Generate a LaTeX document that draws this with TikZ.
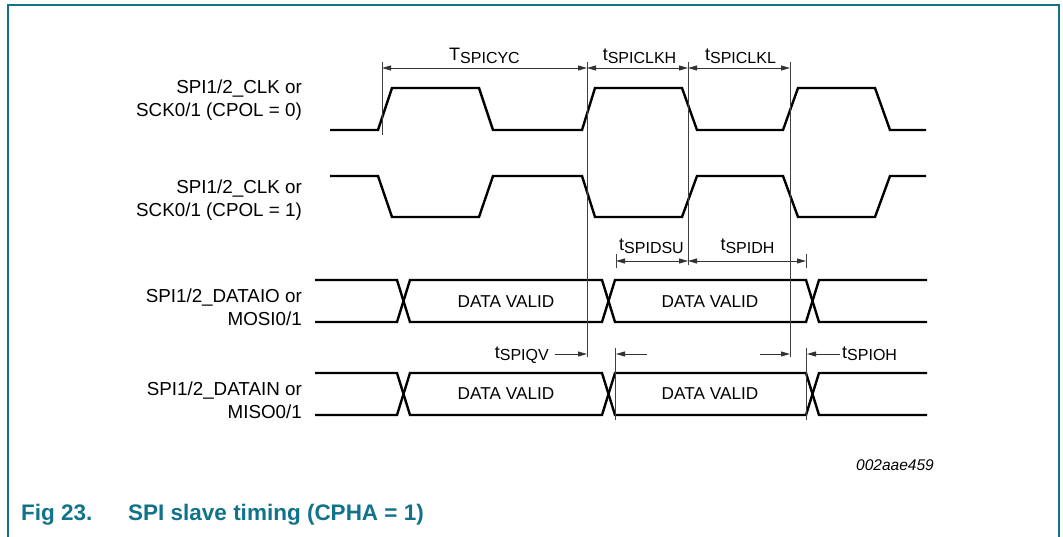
\documentclass[tikz,border=0pt]{standalone}
\usepackage{fontspec}
\setmainfont{Liberation Sans}
\usepackage{tikz}
\usetikzlibrary{positioning}
\usetikzlibrary{arrows.meta}
\definecolor{figteal}{RGB}{17,115,138}
\newcommand{\tsub}[2]{{\fontsize{18}{18}\selectfont #1}{\fontsize{16}{16}\selectfont\raisebox{-2.5pt}{#2}}}

\begin{document}
\begin{tikzpicture}[x=1pt,y=-1pt,
		sig/.style={line width=2.4pt},
		guide/.style={line width=0.8pt, black!75},
		dim/.style={line width=0.9pt, black!80, {Triangle[length=9pt,width=5pt]}-{Triangle[length=9pt,width=5pt]}},
		ptr/.style={line width=0.9pt, black!80, -{Triangle[length=9pt,width=5pt]}},
		lbl/.style={font=\fontsize{18.8}{23}\selectfont, align=right, anchor=east, inner sep=0pt},
		dv/.style={font=\fontsize{17.2}{17}\selectfont, inner sep=0pt}]
		\useasboundingbox (0,0) rectangle (1063,537);
		\draw[figteal, line width=2pt] (8,537) -- (8,5) -- (1059,5) -- (1059,537);
		
		\node[lbl] (clka) at (302,100) {SPI1/2\_CLK or\\SCK0/1 (CPOL = 0)};
		\node[lbl] (clkb) at (302,200) {SPI1/2\_CLK or\\SCK0/1 (CPOL = 1)};
		\node[lbl] (mosi) at (302,307) {SPI1/2\_DATAIO or\\MOSI0/1};
		\node[lbl] (miso) at (302,400) {SPI1/2\_DATAIN or\\MISO0/1};
		
		\draw[sig] (330,130) -- (378,130) -- (392,88) -- (479,88) -- (493,130) -- (582,130) -- (595,88) -- (682,88) -- (697,130) -- (783,130) -- (798,88) -- (875,88) -- (890,130) -- (926,130);
		\draw[sig] (330,176) -- (378,176) -- (392,217) -- (479,217) -- (493,176) -- (582,176) -- (595,217) -- (682,217) -- (697,176) -- (783,176) -- (798,217) -- (875,217) -- (890,176) -- (926,176);
		\draw[sig] (315,280) -- (397,280) -- (410,322) -- (602,322) -- (615,280) -- (806,280) -- (819,322) -- (927,322);
		\draw[sig] (315,322) -- (397,322) -- (410,280) -- (602,280) -- (615,322) -- (806,322) -- (819,280) -- (927,280);
		\draw[sig] (315,373) -- (397,373) -- (410,415) -- (602,415) -- (615,373) -- (806,373) -- (819,415) -- (927,415);
		\draw[sig] (315,415) -- (397,415) -- (410,373) -- (602,373) -- (615,415) -- (806,415) -- (819,373) -- (927,373);
		
		\node[dv] (dva) at (506,301.5) {DATA VALID};
		\node[dv] (dvb) at (710,301.5) {DATA VALID};
		\node[dv] (dvc) at (506,394) {DATA VALID};
		\node[dv] (dvd) at (710,394) {DATA VALID};
		
		\coordinate (cyc) at (382,68);
		\coordinate (clkh) at (587,68);
		\coordinate (clkl) at (688,68);
		\coordinate (clke) at (790,68);
		\coordinate (su) at (616,261);
		\coordinate (hd) at (688,261);
		\coordinate (he) at (806,261);
		\draw[guide] (382,62) -- (382,135);
		\draw[guide] (587,62) -- (587,357);
		\draw[guide] (688,62) -- (688,265);
		\draw[guide] (790,62) -- (790,357);
		\draw[guide] (616,254) -- (616,268);
		\draw[guide] (806,254) -- (806,268);
		\draw[guide] (615,348) -- (615,420);
		\draw[guide] (806,348) -- (806,420);
		\draw[dim] (cyc) -- (clkh);
		\draw[dim] (clkh) -- (clkl);
		\draw[dim] (clkl) -- (clke);
		\draw[dim] (su) -- (hd);
		\draw[dim] (hd) -- (he);
		
		\node[anchor=base, inner sep=0pt] (tcyc) at (484.5,61) {\tsub{T}{SPICYC}};
		\node[anchor=base, inner sep=0pt] (tclkh) at (639.5,61) {\tsub{t}{SPICLKH}};
		\node[anchor=base, inner sep=0pt] (tclkl) at (740.5,61) {\tsub{t}{SPICLKL}};
		\node[anchor=base, inner sep=0pt] (tdsu) at (651.5,251) {\tsub{t}{SPIDSU}};
		\node[anchor=base, inner sep=0pt] (tdh) at (747.5,251) {\tsub{t}{SPIDH}};
		
		\coordinate (qva) at (555,354);
		\coordinate (qvb) at (587,354);
		\coordinate (qvc) at (647,354);
		\coordinate (qvd) at (616,354);
		\coordinate (oha) at (760,354);
		\coordinate (ohb) at (790,354);
		\coordinate (ohc) at (840,354);
		\coordinate (ohd) at (807,354);
		\draw[ptr] (qva) -- (qvb);
		\draw[ptr] (qvc) -- (qvd);
		\draw[ptr] (oha) -- (ohb);
		\draw[ptr] (ohc) -- (ohd);
		\node[anchor=base east, inner sep=0pt] (tqv) at (549,358) {\tsub{t}{SPIQV}};
		\node[anchor=base west, inner sep=0pt] (toh) at (842,358) {\tsub{t}{SPIOH}};
		
		\node[font=\fontsize{15.5}{15.5}\selectfont\itshape, inner sep=0pt] (code) at (895,465) {002aae459};
		\node[anchor=base west, inner sep=0pt, text=figteal, font=\fontsize{22.5}{22.5}\selectfont\bfseries] (fig) at (21,520) {Fig 23.};
		\node[anchor=base west, inner sep=0pt, text=figteal, font=\fontsize{22.5}{22.5}\selectfont\bfseries] (cap) at (128,520) {SPI slave timing (CPHA = 1)};
\end{tikzpicture}
\end{document}
